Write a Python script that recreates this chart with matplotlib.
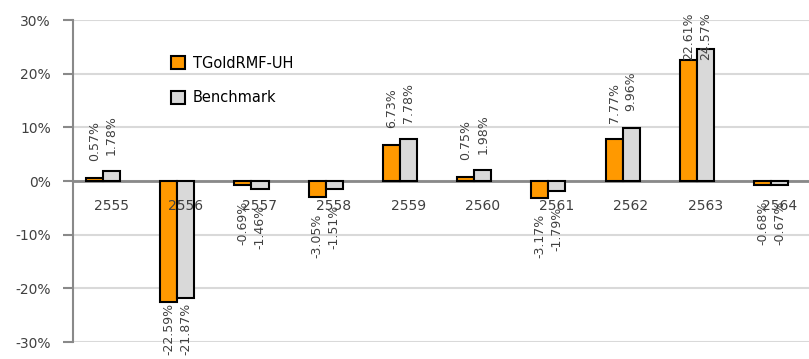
import numpy as np
import matplotlib
matplotlib.use('Agg')
import matplotlib.pyplot as plt

years = ['2555', '2556', '2557', '2558', '2559', '2560', '2561', '2562', '2563', '2564']
fund = [0.57, -22.59, -0.69, -3.05, 6.73, 0.75, -3.17, 7.77, 22.61, -0.68]
bench = [1.78, -21.87, -1.46, -1.51, 7.78, 1.98, -1.79, 9.96, 24.57, -0.67]
names = ['TGoldRMF-UH', 'Benchmark']

plt.rcParams['font.family'] = ['DejaVu Sans']
txt = '#404040'

fig = plt.figure(figsize=(8.09, 3.59), dpi=100)
ax = fig.add_axes([73 / 809, 1 - 342 / 359, 736 / 809, 322 / 359])

x = np.arange(len(years))
w = 0.23
ax.bar(x - w / 2, fund, w, color='#FF9900', edgecolor='black', linewidth=1.5, label=names[0], zorder=3)
ax.bar(x + w / 2, bench, w, color='#D9D9D9', edgecolor='black', linewidth=1.5, label=names[1], zorder=3)


def put_label(xpos, v):
    if v >= 0:
        y = min(v + 3.1, 22.5)
        va = 'bottom'
    else:
        y = max(v - 3.0, -22.7)
        va = 'top'
    ax.text(xpos, y, '%.2f%%' % v, rotation=90, ha='center', va=va,
            fontsize=9, color=txt, clip_on=False, zorder=5)


for i in range(len(years)):
    put_label(x[i] - w / 2, fund[i])
    put_label(x[i] + w / 2, bench[i])
    # category names sit inside the plot, just under the zero line
    ax.text(x[i] + 0.11, -4.7, years[i], ha='center', va='center', fontsize=10, color=txt, zorder=5)

ax.set_xlim(-0.404, 9.51)
ax.set_ylim(-30, 30)
ax.set_yticks(range(-30, 31, 10))
ax.set_yticklabels(['%d%%' % t for t in range(-30, 31, 10)], fontsize=10, color=txt)
ax.set_xticks([])
ax.grid(axis='y', color='#D9D9D9', linewidth=1.5, zorder=0)
ax.axhline(0, color='#898989', linewidth=2, zorder=2)
for s in ['top', 'right', 'bottom']:
    ax.spines[s].set_visible(False)
ax.spines['left'].set_color('#898989')
ax.spines['left'].set_linewidth(1.5)
ax.tick_params(axis='y', length=7, width=1.5, color='#898989', pad=9)

ax.legend(loc='upper left', bbox_to_anchor=(0.115, 0.93), frameon=False, fontsize=10.5,
          handlelength=1, handleheight=1, labelspacing=1.35, handletextpad=0.5)

fig.savefig('out.png', dpi=100)
